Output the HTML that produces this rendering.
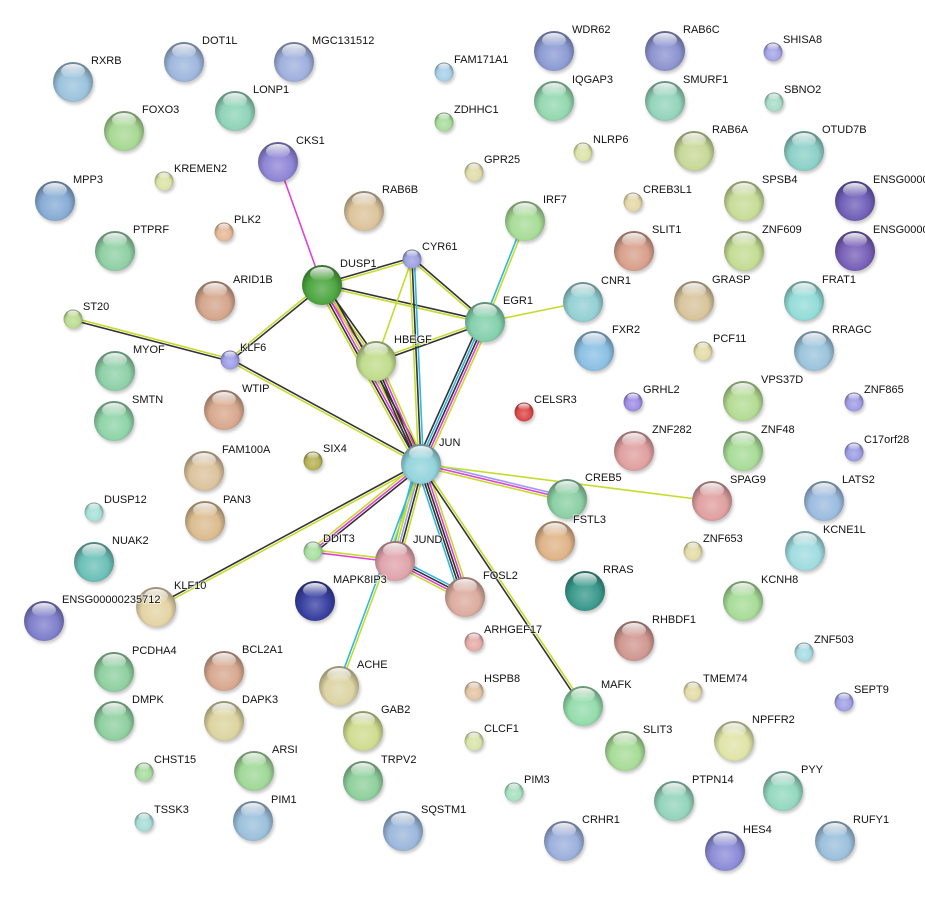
<!DOCTYPE html>
<html><head><meta charset="utf-8"><style>
html,body{margin:0;padding:0;background:#fff;}
svg{display:block;}
text{font-family:"Liberation Sans",sans-serif;font-size:11px;fill:#111;paint-order:stroke;stroke:#fff;stroke-width:2px;stroke-opacity:0.6;}
</style></head><body>
<svg id="s" width="925" height="897" xmlns="http://www.w3.org/2000/svg">
<defs>
<linearGradient id="hl" x1="0" y1="0" x2="0" y2="1"><stop offset="0" stop-color="#fff" stop-opacity="0.9"/><stop offset="1" stop-color="#fff" stop-opacity="0"/></linearGradient>
<filter id="sh" x="-30%" y="-30%" width="160%" height="160%"><feGaussianBlur stdDeviation="1.5"/></filter>
</defs>
<g id="E"></g><g id="N"></g><g id="T"></g>
</svg>
<script>
var nodes={
RXRB:[73,82,1,'#9cc3dc'],DOT1L:[184,62,1,'#9fb7dd'],MGC131512:[294,62,1,'#9fb0dd'],LONP1:[235,111,1,'#8fd4b8'],
FOXO3:[124,131,1,'#a8d894'],CKS1:[278,162,1,'#8f86d6'],KREMEN2:[164,181,0,'#dbe3a6'],MPP3:[55,201,1,'#88acd6'],
PTPRF:[115,251,1,'#8fd0a4'],PLK2:[224,232,0,'#e6b898'],ARID1B:[215,301,1,'#d4a68c'],ST20:[73,319,0,'#bcdc90'],
KLF6:[230,360,0,'#9e9ee8'],MYOF:[115,371,1,'#8fd0a8'],SMTN:[114,421,1,'#8fd4a8'],WTIP:[224,410,1,'#d8a88e'],
FAM100A:[204,471,1,'#dcc39e'],SIX4:[313,461,0,'#b6b256'],DUSP12:[94,512,0,'#a8e0d8'],PAN3:[205,521,1,'#dcbc90'],
NUAK2:[94,562,1,'#6cc0b8'],ENSG00000235712:[44,621,1,'#7f7fcc'],KLF10:[156,607,1,'#e4d4a6'],PCDHA4:[114,672,1,'#8fd0a0'],
BCL2A1:[224,671,1,'#d8a890'],DMPK:[114,721,1,'#8fd0a0'],DAPK3:[224,721,1,'#dcd4a0'],CHST15:[144,772,0,'#a8dca0'],
ARSI:[254,771,1,'#a0d898'],TSSK3:[144,822,0,'#a8dcd8'],PIM1:[253,821,1,'#9cc0dc'],DUSP1:[322,285,1,'#4ea640'],
CYR61:[412,259,0,'#9ea2e0'],RAB6B:[364,211,1,'#dcc49c'],FAM171A1:[444,72,0,'#a8d0e8'],ZDHHC1:[444,122,0,'#a8dc9c'],
GPR25:[474,172,0,'#e0dcaa'],HBEGF:[376,361,1,'#c0dc8c'],EGR1:[485,322,1,'#84d0ac'],IRF7:[525,221,1,'#a8dc98'],
JUN:[421,464,1,'#94d4dc'],CELSR3:[524,412,0,'#dc4848'],DDIT3:[313,551,0,'#a8e0a0'],JUND:[395,561,1,'#e0a4ac'],
MAPK8IP3:[315,601,1,'#3840a0'],FOSL2:[465,597,1,'#dcaca0'],ARHGEF17:[474,642,0,'#e4aca8'],HSPB8:[474,691,0,'#e4c4a4'],
ACHE:[339,686,1,'#dcd4a4'],GAB2:[363,731,1,'#d0dc90'],CLCF1:[474,741,0,'#d8e4a8'],TRPV2:[363,781,1,'#8fd09c'],
PIM3:[514,792,0,'#a8e0c0'],SQSTM1:[403,831,1,'#9cb8dc'],CRHR1:[564,841,1,'#9cb0dc'],MAFK:[583,706,1,'#94dcac'],
SLIT3:[625,751,1,'#a8dc98'],PTPN14:[674,801,1,'#94d4bc'],HES4:[725,851,1,'#8c8cd8'],RUFY1:[835,841,1,'#9cc0dc'],
PYY:[783,791,1,'#94d8c0'],NPFFR2:[734,741,1,'#e0e4a8'],TMEM74:[693,691,0,'#e4dca8'],SEPT9:[844,702,0,'#a0a0e4'],
ZNF503:[804,652,0,'#a8dce4'],KCNH8:[743,601,1,'#a8dc98'],RHBDF1:[634,641,1,'#d09890'],RRAS:[585,591,1,'#3a9a8c'],
ZNF653:[693,551,0,'#e4dca8'],KCNE1L:[805,551,1,'#a0dce0'],FSTL3:[555,541,1,'#e0b488'],CREB5:[567,499,1,'#8cd0a4'],
SPAG9:[712,501,1,'#e0a0a0'],LATS2:[824,501,1,'#9cbce0'],ZNF282:[634,451,1,'#e0a0a0'],ZNF48:[743,451,1,'#a8dc98'],
C17orf28:[854,452,0,'#9c9ce4'],GRHL2:[633,402,0,'#a08ce4'],VPS37D:[743,401,1,'#b4dc94'],ZNF865:[854,402,0,'#a09ce4'],
FXR2:[594,351,1,'#8cc0e4'],PCF11:[703,351,0,'#e4dca8'],RRAGC:[814,351,1,'#9cc4dc'],CNR1:[583,302,1,'#94d0d4'],
GRASP:[694,301,1,'#d8c49c'],FRAT1:[804,301,1,'#94dcd8'],SLIT1:[634,251,1,'#d8a08c'],ZNF609:[744,251,1,'#c4dc94'],
E2:[855,251,1,'#7860b8'],CREB3L1:[633,202,0,'#e4d8a8'],SPSB4:[744,201,1,'#c8dc98'],E1:[855,201,1,'#7060b8'],
RAB6A:[694,151,1,'#c8d898'],OTUD7B:[804,151,1,'#8cd0c8'],NLRP6:[583,152,0,'#dce4a8'],IQGAP3:[554,101,1,'#94d8b0'],
SMURF1:[665,101,1,'#94d4bc'],SBNO2:[774,102,0,'#a8dcc8'],WDR62:[554,51,1,'#8c9cd4'],RAB6C:[665,51,1,'#8c94d0'],
SHISA8:[773,52,0,'#a4a4e4']};
var names={E1:'ENSG0000',E2:'ENSG0000'};
var K='#333',Y='#c4dc2c',M='#e040d8',C='#30b8e0',P='#9c9cf4';
var edges=[
['DUSP1','CKS1',[M]],['DUSP1','CYR61',[K,Y]],['DUSP1','EGR1',[K,Y]],['DUSP1','HBEGF',[K,Y,M]],['DUSP1','KLF6',[K,Y]],
['DUSP1','JUN',[K,Y,M,K,Y]],['CYR61','EGR1',[K,Y]],['CYR61','JUN',[C,K,Y]],['CYR61','HBEGF',[Y]],['EGR1','HBEGF',[K,Y]],
['EGR1','IRF7',[C,Y]],['EGR1','CNR1',[Y]],['EGR1','JUN',[Y,M,K,C,K]],['HBEGF','JUN',[Y,M,K,K]],['KLF6','ST20',[K,Y]],
['KLF6','JUN',[K,Y]],['KLF10','JUN',[K,Y]],['DDIT3','JUN',[Y,M,K]],['JUND','JUN',[C,Y,P,K,Y]],['FOSL2','JUN',[C,K,K,M,Y]],
['ACHE','JUN',[C,Y]],['MAFK','JUN',[K,Y]],['CREB5','JUN',[Y,M,P]],['SPAG9','JUN',[Y]],['JUND','DDIT3',[M,Y]],
['JUND','FOSL2',[C,K,M,Y]]];
var NS='http://www.w3.org/2000/svg';
function el(t,a,p){var e=document.createElementNS(NS,t);for(var k in a)e.setAttribute(k,a[k]);p.appendChild(e);return e;}
function mix(c,t,f){var r=parseInt(c.substr(1,2),16),g=parseInt(c.substr(3,2),16),b=parseInt(c.substr(5,2),16);
r=Math.round(r+(t-r)*f);g=Math.round(g+(t-g)*f);b=Math.round(b+(t-b)*f);return 'rgb('+r+','+g+','+b+')';}
var E=document.getElementById('E'),N=document.getElementById('N'),T=document.getElementById('T'),defs=document.querySelector('defs');
edges.forEach(function(ed){var a=nodes[ed[0]],b=nodes[ed[1]];var dx=b[0]-a[0],dy=b[1]-a[1],L=Math.hypot(dx,dy);var nx=-dy/L,ny=dx/L;var n=ed[2].length;
ed[2].forEach(function(c,i){var o=(i-(n-1)/2)*2.4;el('line',{x1:a[0]+nx*o,y1:a[1]+ny*o,x2:b[0]+nx*o,y2:b[1]+ny*o,stroke:c,'stroke-width':1.6},E);});});
var gi=0;
for(var k in nodes){var d=nodes[k],r=d[2]?20:9.5,x=d[0],y=d[1],c=d[3];gi++;
var g=el('radialGradient',{id:'g'+gi,cx:'0.5',cy:'0.6',r:'0.55'},defs);
el('stop',{offset:'0','stop-color':mix(c,255,0.25)},g);el('stop',{offset:'0.65','stop-color':c},g);el('stop',{offset:'1','stop-color':mix(c,0,0.3)},g);
el('circle',{cx:x+1.5,cy:y+2.5,r:r,fill:'#000',opacity:0.22,filter:'url(#sh)'},N);
el('circle',{cx:x,cy:y,r:r,fill:'url(#g'+gi+')'},N);
el('ellipse',{cx:x,cy:y-r*0.55,rx:r*0.6,ry:r*0.35,fill:'url(#hl)'},N);
var t=el('text',{x:x+(d[2]?18:10),y:y-(d[2]?18:9)},T);t.textContent=names[k]||k;}
</script>
</body></html>
